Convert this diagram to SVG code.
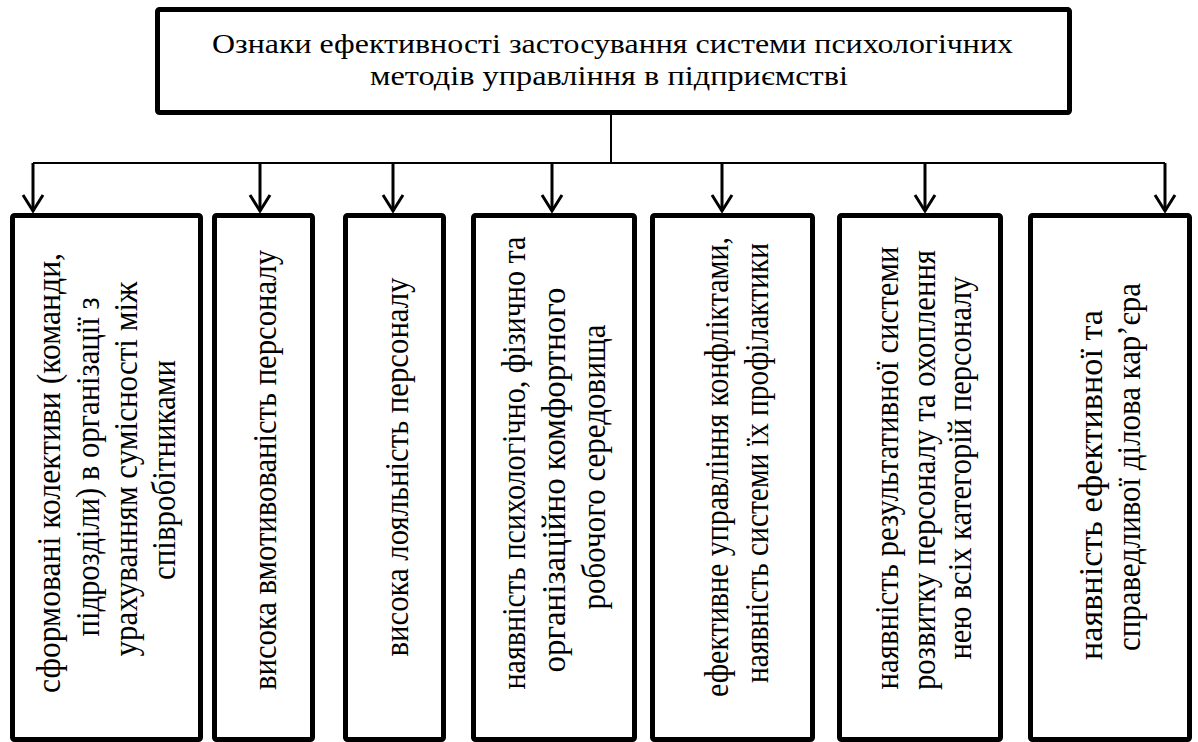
<svg xmlns="http://www.w3.org/2000/svg" width="1198" height="742" viewBox="0 0 1198 742">
<style>
.box{fill:#fff;stroke:#000;stroke-width:5}
.t{font-family:"Liberation Serif","Times New Roman",serif;font-size:32px;fill:#000;text-anchor:middle}
.v{font-family:"Liberation Serif","Times New Roman",serif;font-size:34px;fill:#000;text-anchor:middle}
.ln{fill:none;stroke:#000;stroke-width:2}
.ar{fill:none;stroke:#000;stroke-width:3}
</style>
<defs>
<marker id="arr" markerWidth="22" markerHeight="24" refX="18" refY="12" orient="auto" markerUnits="userSpaceOnUse" viewBox="0 0 22 24" overflow="visible">
<path d="M2,2 L18,12 L2,22" fill="none" stroke="#000" stroke-width="3"/>
</marker>
</defs>
<rect width="1198" height="742" fill="#fff"/>
<g id="top">
<rect class="box" x="157.5" y="9.5" width="912" height="103" rx="2"/>
<text class="t" transform="translate(612.5,53) scale(1,0.85)" textLength="801" lengthAdjust="spacingAndGlyphs">Ознаки ефективності застосування системи психологічних</text>
<text class="t" transform="translate(609,85) scale(1,0.85)" textLength="478" lengthAdjust="spacingAndGlyphs">методів управління в підприємстві</text>
</g>
<g id="connectors">
<path class="ln" d="M611,113 V163 M33,163 H1165"/>
<path class="ar" marker-end="url(#arr)" d="M33,163 V211"/>
<path class="ar" marker-end="url(#arr)" d="M260,163 V211"/>
<path class="ar" marker-end="url(#arr)" d="M393,163 V211"/>
<path class="ar" marker-end="url(#arr)" d="M552,163 V211"/>
<path class="ar" marker-end="url(#arr)" d="M722,163 V211"/>
<path class="ar" marker-end="url(#arr)" d="M925,163 V211"/>
<path class="ar" marker-end="url(#arr)" d="M1165,163 V211"/>
</g>
<g id="n1">
<rect class="box" x="12.5" y="215.5" width="188" height="524" rx="2"/>
<text class="v" transform="translate(60,473) rotate(-90)" textLength="440" lengthAdjust="spacingAndGlyphs">сформовані колективи (команди,</text>
<text class="v" transform="translate(99,467) rotate(-90)" textLength="339" lengthAdjust="spacingAndGlyphs">підрозділи) в організації з</text>
<text class="v" transform="translate(137,469) rotate(-90)" textLength="375" lengthAdjust="spacingAndGlyphs">урахуванням сумісності між</text>
<text class="v" transform="translate(175,470) rotate(-90)" textLength="220" lengthAdjust="spacingAndGlyphs">співробітниками</text>
</g>
<g id="n2">
<rect class="box" x="214.5" y="215.5" width="98" height="524" rx="2"/>
<text class="v" transform="translate(276,470) rotate(-90)" textLength="440" lengthAdjust="spacingAndGlyphs">висока вмотивованість персоналу</text>
</g>
<g id="n3">
<rect class="box" x="345.5" y="215.5" width="98" height="524" rx="2"/>
<text class="v" transform="translate(408,467) rotate(-90)" textLength="379" lengthAdjust="spacingAndGlyphs">висока лояльність персоналу</text>
</g>
<g id="n4">
<rect class="box" x="473.5" y="215.5" width="161" height="524" rx="2"/>
<text class="v" transform="translate(525,463) rotate(-90)" textLength="453" lengthAdjust="spacingAndGlyphs">наявність психологічно, фізично та</text>
<text class="v" transform="translate(565,480) rotate(-90)" textLength="385" lengthAdjust="spacingAndGlyphs">організаційно комфортного</text>
<text class="v" transform="translate(605,467) rotate(-90)" textLength="285" lengthAdjust="spacingAndGlyphs">робочого середовища</text>
</g>
<g id="n5">
<rect class="box" x="652.5" y="215.5" width="160" height="524" rx="2"/>
<text class="v" transform="translate(728,467) rotate(-90)" textLength="460" lengthAdjust="spacingAndGlyphs">ефективне управління конфліктами,</text>
<text class="v" transform="translate(768,463) rotate(-90)" textLength="440" lengthAdjust="spacingAndGlyphs">наявність системи їх профілактики</text>
</g>
<g id="n6">
<rect class="box" x="839.5" y="215.5" width="161" height="524" rx="2"/>
<text class="v" transform="translate(898,468) rotate(-90)" textLength="443" lengthAdjust="spacingAndGlyphs">наявність результативної системи</text>
<text class="v" transform="translate(935,470) rotate(-90)" textLength="440" lengthAdjust="spacingAndGlyphs">розвитку персоналу та охоплення</text>
<text class="v" transform="translate(971,468) rotate(-90)" textLength="383" lengthAdjust="spacingAndGlyphs">нею всіх категорій персоналу</text>
</g>
<g id="n7">
<rect class="box" x="1030.5" y="215.5" width="159" height="524" rx="2"/>
<text class="v" transform="translate(1102,485) rotate(-90)" textLength="350" lengthAdjust="spacingAndGlyphs">наявність ефективної та</text>
<text class="v" transform="translate(1140,467) rotate(-90)" textLength="368" lengthAdjust="spacingAndGlyphs">справедливої ділова кар’єра</text>
</g>
</svg>
